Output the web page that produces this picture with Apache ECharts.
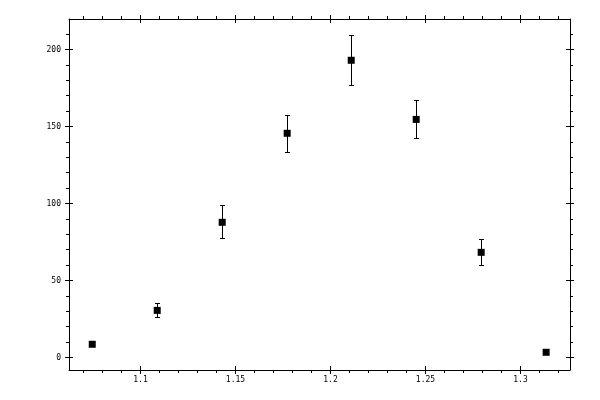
<!DOCTYPE html>
<html>
<head>
<meta charset="utf-8">
<script src="https://cdn.jsdelivr.net/npm/echarts@6/dist/echarts.min.js"></script>
<style>html,body{margin:0;padding:0;background:#fff}#c{width:600px;height:400px}</style>
</head>
<body>
<div id="c"></div>
<script>
// data
var xValues = [1.0746, 1.1088, 1.1430, 1.1772, 1.2109, 1.2451, 1.2793, 1.3135];
var yValues = [8.6, 30.6, 87.8, 145.6, 193.0, 154.6, 68.3, 3.4];
var yLow    = [8.6, 26.1, 77.4, 133.2, 176.8, 142.3, 60.0, 3.4];
var yHigh   = [8.6, 35.2, 98.8, 157.3, 209.3, 167.0, 76.5, 3.4];
// ticks
var xMajorTicks = [1.1, 1.15, 1.2, 1.25, 1.3];
var xMinorTicks = [1.07, 1.08, 1.09, 1.11, 1.12, 1.13, 1.14, 1.16, 1.17, 1.18, 1.19, 1.21, 1.22, 1.23, 1.24, 1.26, 1.27, 1.28, 1.29, 1.31, 1.32];
var yMajorTicks = [0, 50, 100, 150, 200];
var yMinorTicks = [10, 20, 30, 40, 60, 70, 80, 90, 110, 120, 130, 140, 160, 170, 180, 190, 210];
var xMin = 1.06237, xMax = 1.32605;
var yMin = -8.1, yMax = 219.8;

var font = {fontFamily: 'DejaVu Sans Mono', fontSize: 8, color: '#000'};
var lineStyle = {color: '#000', width: 1};

function mkAxis(kind, pos, opts) {
  return {
    type: 'value',
    position: pos,
    offset: 0,
    min: kind === 'x' ? xMin : yMin,
    max: kind === 'x' ? xMax : yMax,
    splitLine: {show: false},
    axisLine: {show: !!opts.line, onZero: false, lineStyle: lineStyle},
    axisTick: {show: true, inside: !!opts.inside, length: opts.len, customValues: opts.ticks, lineStyle: lineStyle},
    axisLabel: opts.labels ? Object.assign({show: true, margin: opts.margin, customValues: opts.ticks,
      formatter: function (v) { return String(v); }}, font) : {show: false}
  };
}

var xAxes = [
  mkAxis('x', 'bottom', {line: true, len: 4, ticks: xMajorTicks, labels: true, margin: 6}),
  mkAxis('x', 'bottom', {inside: true, len: 4, ticks: xMajorTicks}),
  mkAxis('x', 'bottom', {len: 3, ticks: xMinorTicks}),
  mkAxis('x', 'top', {line: true, len: 4, ticks: xMajorTicks}),
  mkAxis('x', 'top', {inside: true, len: 4, ticks: xMajorTicks}),
  mkAxis('x', 'top', {len: 3, ticks: xMinorTicks})
];
var yAxes = [
  mkAxis('y', 'left', {line: true, len: 4, ticks: yMajorTicks, labels: true, margin: 8}),
  mkAxis('y', 'left', {inside: true, len: 4, ticks: yMajorTicks}),
  mkAxis('y', 'left', {len: 3, ticks: yMinorTicks}),
  mkAxis('y', 'right', {line: true, len: 4, ticks: yMajorTicks}),
  mkAxis('y', 'right', {inside: true, len: 4, ticks: yMajorTicks}),
  mkAxis('y', 'right', {len: 3, ticks: yMinorTicks})
];

var points = xValues.map(function (x, i) { return [x, yValues[i]]; });
var errData = xValues.map(function (x, i) { return [x, yLow[i], yHigh[i]]; });

var chart = echarts.init(document.getElementById('c'));
chart.setOption({
  animation: false,
  backgroundColor: '#fff',
  grid: {left: 69, top: 19, width: 501, height: 351, containLabel: false},
  xAxis: xAxes,
  yAxis: yAxes,
  series: [
    {
      type: 'custom',
      xAxisIndex: 0, yAxisIndex: 0,
      data: errData,
      silent: true,
      renderItem: function (params, api) {
        var x = api.value(0);
        var lo = api.coord([x, api.value(1)]);
        var hi = api.coord([x, api.value(2)]);
        if (Math.abs(lo[1] - hi[1]) < 1) return {type: 'group', children: []};
        var cx = Math.floor(lo[0]) + 0.5;
        var yl = Math.floor(lo[1]) + 0.5;
        var yh = Math.floor(hi[1]) + 0.5;
        var w = 2.5;
        var st = {stroke: '#000', lineWidth: 1};
        return {
          type: 'group',
          children: [
            {type: 'line', shape: {x1: cx, y1: yh, x2: cx, y2: yl}, style: st},
            {type: 'line', shape: {x1: cx - w, y1: yh, x2: cx + w, y2: yh}, style: st},
            {type: 'line', shape: {x1: cx - w, y1: yl, x2: cx + w, y2: yl}, style: st}
          ]
        };
      },
      z: 2
    },
    {
      type: 'scatter',
      xAxisIndex: 0, yAxisIndex: 0,
      data: points,
      symbol: 'rect',
      symbolSize: 7,
      itemStyle: {color: '#000', opacity: 1},
      emphasis: {disabled: true},
      z: 3
    }
  ]
});
</script>
</body>
</html>
